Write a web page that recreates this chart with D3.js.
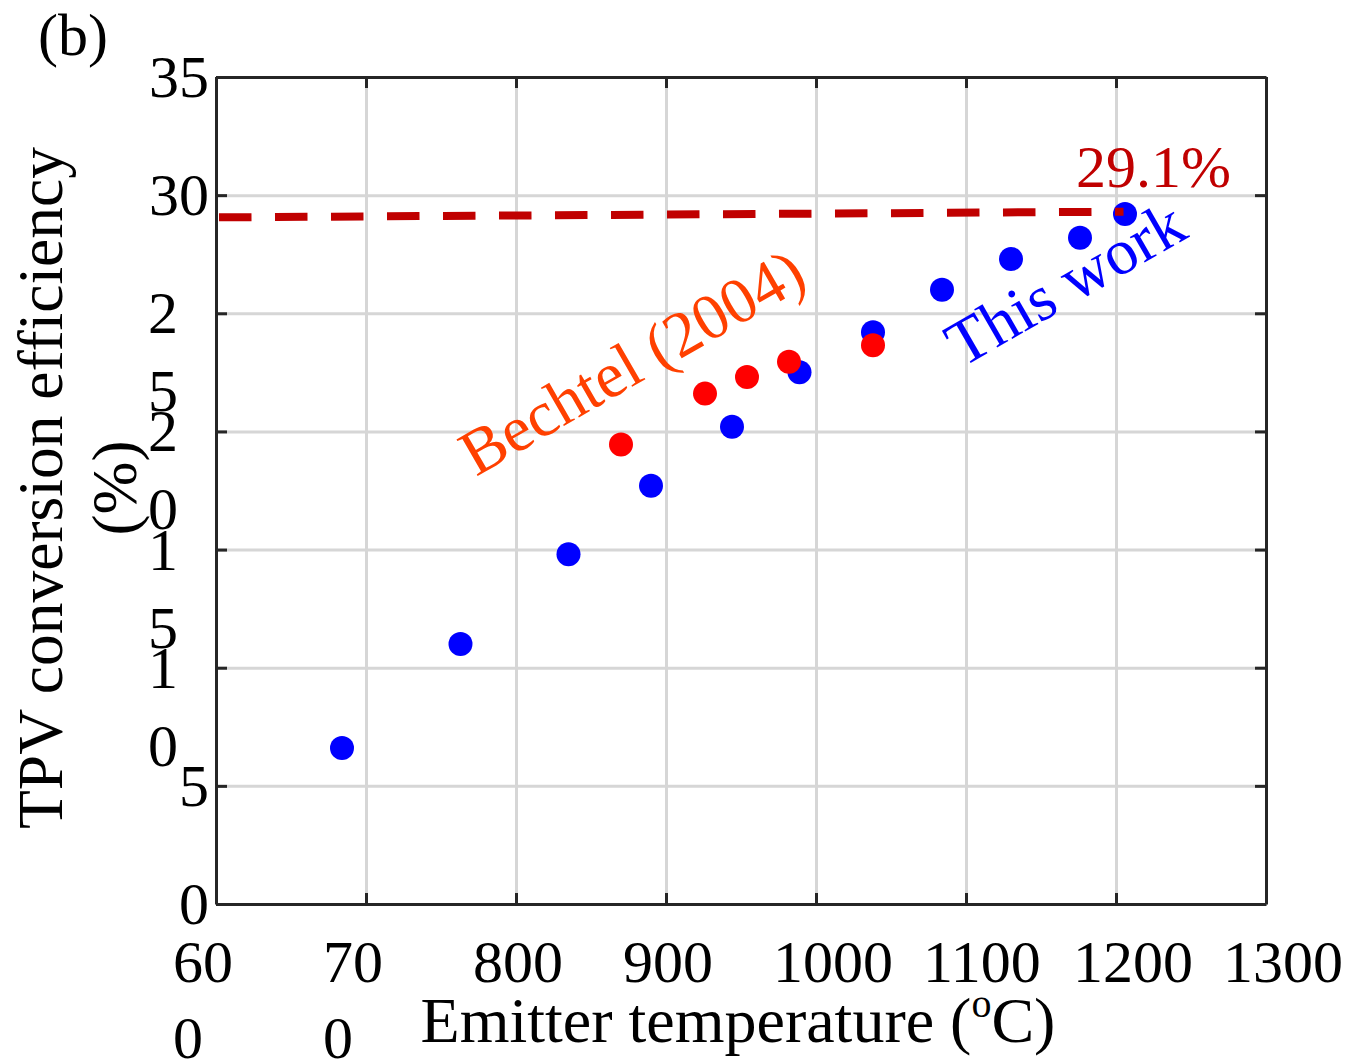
<!DOCTYPE html>
<html><head><meta charset="utf-8">
<script src="https://cdn.jsdelivr.net/npm/d3@7"></script>
<style>
body{margin:0;background:#fff}
svg{display:block}
text{font-family:"Liberation Serif","Times New Roman",serif;}
</style>
</head><body>
<svg id="c" width="1352" height="1061"></svg>
<script>
// ---- data ----
const xTicks = [600, 700, 800, 900, 1000, 1100, 1200, 1300];
const xTickLabels = ["60\n0", "70\n0", "800", "900", "1000", "1100", "1200", "1300"];
const yTicks = [0, 5, 10, 15, 20, 25, 30, 35];
const yTickLabels = ["0", "5", "1\n0", "1\n5", "2\n0", "2\n5", "30", "35"];
const thisWorkT   = [684, 763, 835, 890, 944, 989, 1038, 1084, 1130, 1176, 1206];
const thisWorkEff = [6.6, 11.0, 14.8, 17.7, 20.2, 22.5, 24.2, 26.0, 27.3, 28.2, 29.2];
const bechtelT    = [870, 926, 954, 982, 1038];
const bechtelEff  = [19.45, 21.6, 22.3, 22.95, 23.65];
const limitT   = [602, 1205];
const limitEff = [29.06, 29.30];
const limitLabel = "29.1%";
const xTitle = "Emitter temperature (";
const yTitleLines = ["TPV conversion efficiency", "(%)"];

// ---- layout ----
const svg = d3.select("#c");
const L = 216, R = 1266, T = 77, B = 904;
const x = d3.scaleLinear().domain([600, 1300]).range([L, R]);
const y = d3.scaleLinear().domain([0, 35]).range([B, T]);
const FS = 60;

// grid
const g = svg.append("g");
g.append("g").attr("transform", `translate(0,${B})`)
  .call(d3.axisBottom(x).tickValues(xTicks).tickSize(-(B - T)).tickFormat(""))
  .call(s => { s.select(".domain").remove(); s.selectAll("line").attr("stroke", "#d6d6d6").attr("stroke-width", 3); });
g.append("g").attr("transform", `translate(${L},0)`)
  .call(d3.axisLeft(y).tickValues(yTicks).tickSize(-(R - L)).tickFormat(""))
  .call(s => { s.select(".domain").remove(); s.selectAll("line").attr("stroke", "#d6d6d6").attr("stroke-width", 3); });

// data: this work
svg.append("g").selectAll("circle").data(thisWorkT.map((t, i) => [t, thisWorkEff[i]]))
  .join("circle").attr("cx", d => x(d[0])).attr("cy", d => y(d[1])).attr("r", 12).attr("fill", "#0000ff");
// Bechtel
svg.append("g").selectAll("circle").data(bechtelT.map((t, i) => [t, bechtelEff[i]]))
  .join("circle").attr("cx", d => x(d[0])).attr("cy", d => y(d[1])).attr("r", 12).attr("fill", "#ff0000");
// limit dashed line
svg.append("path").datum(limitT.map((t, i) => [t, limitEff[i]]))
  .attr("d", d3.line().x(d => x(d[0])).y(d => y(d[1])))
  .attr("stroke", "#c00000").attr("stroke-width", 8).attr("fill", "none")
  .attr("stroke-dasharray", "32.5,23.5");

// annotations
svg.append("text").attr("x", 1076).attr("y", 187).attr("font-size", FS).attr("fill", "#c00000").text(limitLabel);
svg.append("text").attr("transform", "translate(476,477) rotate(-30)").attr("font-size", 64.5)
  .attr("fill", "#ff4000").text("Bechtel (2004)");
svg.append("text").attr("transform", "translate(962,368) rotate(-30)").attr("font-size", 64.5)
  .attr("fill", "#0000ff").text("This work");

// axes box with inward ticks
const axCol = "#262626";
function styleAx(s) { s.select(".domain").attr("stroke", axCol).attr("stroke-width", 3); s.selectAll(".tick line").attr("stroke", axCol).attr("stroke-width", 3); s.selectAll("text").remove(); }
svg.append("g").attr("transform", `translate(0,${B})`).call(d3.axisBottom(x).tickValues(xTicks).tickSize(-11).tickSizeOuter(0)).call(styleAx);
svg.append("g").attr("transform", `translate(0,${T})`).call(d3.axisTop(x).tickValues(xTicks).tickSize(-11).tickSizeOuter(0)).call(styleAx);
svg.append("g").attr("transform", `translate(${L},0)`).call(d3.axisLeft(y).tickValues(yTicks).tickSize(-11).tickSizeOuter(0)).call(styleAx);
svg.append("g").attr("transform", `translate(${R},0)`).call(d3.axisRight(y).tickValues(yTicks).tickSize(-11).tickSizeOuter(0)).call(styleAx);

// x tick labels (left aligned, wrapped)
xTicks.forEach((v, i) => {
  const lines = xTickLabels[i].split("\n");
  const t = svg.append("text").attr("font-size", FS).attr("fill", "#000").attr("text-anchor", "start");
  lines.forEach((ln, k) => t.append("tspan").attr("x", x(v) - 43).attr("y", 982 + k * 76).text(ln));
});
// y tick labels
yTicks.forEach((v, i) => {
  const lines = yTickLabels[i].split("\n");
  const multi = lines.length > 1;
  const t = svg.append("text").attr("font-size", FS).attr("fill", "#000").attr("text-anchor", multi ? "start" : "end");
  lines.forEach((ln, k) => t.append("tspan").attr("x", multi ? 148 : 209).attr("y", y(v) + 20 + k * 78).text(ln));
});

// axis titles
const xt = svg.append("text").attr("x", 738).attr("y", 1042).attr("font-size", 64).attr("text-anchor", "middle").attr("fill", "#000");
xt.append("tspan").text(xTitle);
xt.append("tspan").attr("font-size", 40).attr("dy", -25).text("o");
xt.append("tspan").attr("dy", 25).text("C)");

const yt = svg.append("text").attr("transform", "translate(0,488) rotate(-90)").attr("font-size", 63.5).attr("text-anchor", "middle").attr("fill", "#000");
yTitleLines.forEach((ln, k) => yt.append("tspan").attr("x", 0).attr("y", 62 + k * 74).text(ln));

// panel label
svg.append("text").attr("x", 38).attr("y", 55).attr("font-size", 60).attr("fill", "#000").text("(b)");
</script>
</body></html>
